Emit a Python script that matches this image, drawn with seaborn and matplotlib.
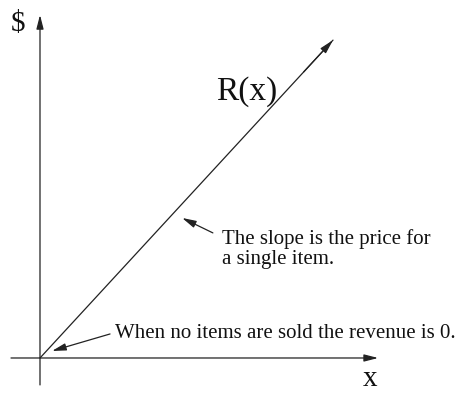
import matplotlib
matplotlib.use("Agg")
import matplotlib.pyplot as plt
import seaborn as sns
import pandas as pd

# Revenue R(x) = price * quantity
quantity = [0, 10]
revenue = [0, 10.85]

sns.set_theme(style="white")
plt.rcParams["font.family"] = ["Liberation Serif", "DejaVu Serif"]

fig = plt.figure(figsize=(4.59, 3.93), dpi=100)
ax = fig.add_axes([0, 0, 1, 1])

df = pd.DataFrame({"quantity": quantity, "revenue": revenue})
sns.lineplot(data=df, x="quantity", y="revenue", ax=ax, color="#222222", lw=0.9)

ax.set_xlim(-1.365, 14.30)
ax.set_ylim(-1.195, 12.22)
ax.set_axis_off()

head = "-|>,head_length=0.7,head_width=0.18"
akw = dict(arrowstyle=head, color="#222222", lw=0.9, shrinkA=0, shrinkB=0)

# coordinate axes
ax.annotate("", xy=(11.54, 0), xytext=(-0.99, 0), arrowprops=akw)
ax.annotate("", xy=(0, 11.71), xytext=(0, -0.92), arrowprops=akw)

# arrowhead at the end of the revenue line
ax.annotate("", xy=(quantity[1], revenue[1]),
            xytext=(quantity[1] * 0.9, revenue[1] * 0.9), arrowprops=akw)

ax.text(-0.75, 11.40, "$", fontsize=21, ha="center", va="center", color="#111111")
ax.text(11.26, -0.95, "x", fontsize=21, ha="center", va="baseline", color="#111111")
ax.text(7.06, 9.08, "R(x)", fontsize=24, ha="center", va="center", color="#111111")

# slope note
ax.annotate("", xy=(4.85, 4.78), xytext=(5.90, 4.27), arrowprops=akw)
ax.text(6.20, 3.72, "The slope is the price for\na single item.", fontsize=15,
        ha="left", va="center", linespacing=1.12, color="#111111")

# origin note
ax.annotate("", xy=(0.41, 0.24), xytext=(2.39, 0.82), arrowprops=akw)
ax.text(2.56, 0.85, "When no items are sold the revenue is 0.", fontsize=15,
        ha="left", va="center", color="#111111")

fig.savefig("out.png", dpi=100)
